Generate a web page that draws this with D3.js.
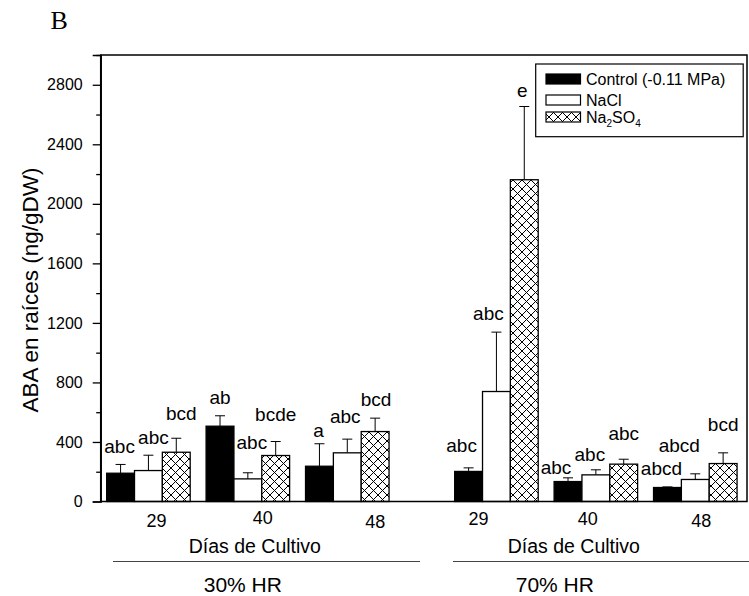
<!DOCTYPE html>
<html><head><meta charset="utf-8">
<script src="https://cdn.jsdelivr.net/npm/d3@7"></script>
<style>
body{margin:0;background:#fff}
svg{display:block}
text{font-family:"Liberation Sans",Arial,sans-serif;fill:#000}
</style>
</head><body>
<svg id="chart" width="749" height="596"></svg>
<script>
// ---------- data ----------
const humidity = ["30% HR", "70% HR"];
const days = ["29", "40", "48", "29", "40", "48"];
const seriesNames = ["Control (-0.11 MPa)", "NaCl", "Na2SO4"];
const control    = [190, 506, 237, 202, 134, 94];
const controlErr = [59, 70, 151, 24, 25, 4];
const nacl       = [208, 152, 327, 739, 179, 148];
const naclErr    = [103, 41, 92, 399, 34, 38];
const na2so4     = [331, 309, 470, 2162, 251, 255];
const na2so4Err  = [94, 94, 90, 492, 33, 72];
const controlLetters = ["abc", "ab", "a", "abc", "abc", "abcd"];
const naclLetters    = ["abc", "abc", "abc", "abc", "abc", "abcd"];
const na2so4Letters  = ["bcd", "bcde", "bcd", "e", "abc", "bcd"];
const yTickValues  = [0, 400, 800, 1200, 1600, 2000, 2400, 2800];
const yMinorValues = [200, 600, 1000, 1400, 1800, 2200, 2600, 3000];
const xAxisTitle = "Días de Cultivo";
const yAxisTitle = "ABA en raíces (ng/gDW)";
const panelLetter = "B";

// ---------- layout (not data) ----------
const groupSlot = [1, 2, 3, 4.5, 5.5, 6.5];
const barW = 0.28;
const tickDx = [8, 15, 28, -18, -8, 6];
const tickDy = [25, 22, 26, 23.5, 23.5, 25.5];
const letterDx = [[-1, 0, -1, -7, -12, -6], [5, 4, -2, -8, -6, -16], [5, 0, 1, -2, 0, 0]];
const letterGap = [[11, 12, 7, 16, 4, 12], [11, 24, 16, 12, 9, 22], [18, 21, 12, 9, 19, 22]];

const svg = d3.select("#chart");
const L = 100.7, R = 747, T = 55, B = 501.5;
const x = d3.scaleLinear().domain([0.52, 7.02]).range([L, R]);
const y = d3.scaleLinear().domain([0, 3000]).range([B, T]);

// hatch pattern
const defs = svg.append("defs");
const pat = defs.append("pattern").attr("id", "hatch").attr("patternUnits", "userSpaceOnUse")
  .attr("width", 9).attr("height", 9);
pat.append("rect").attr("width", 9).attr("height", 9).attr("fill", "#fff");
pat.append("path").attr("d", "M-1,-1L10,10M10,-1L-1,10").attr("stroke", "#000").attr("stroke-width", 1);

const fills = ["#000", "#fff", "url(#hatch)"];
const values = [control, nacl, na2so4];
const errs = [controlErr, naclErr, na2so4Err];
const letters = [controlLetters, naclLetters, na2so4Letters];

const records = [];
values.forEach((arr, s) => arr.forEach((v, g) => records.push({s, g, v, e: errs[s][g], lab: letters[s][g]})));
const cx = d => x(groupSlot[d.g] + (d.s - 1) * barW);

// error bars (behind bars)
const eb = svg.append("g").attr("stroke", "#000").attr("stroke-width", 1);
eb.selectAll("line.v").data(records).join("line")
  .attr("x1", cx).attr("x2", cx).attr("y1", d => y(d.v)).attr("y2", d => y(d.v + d.e));
eb.selectAll("line.c").data(records).join("line")
  .attr("x1", d => cx(d) - 5).attr("x2", d => cx(d) + 5).attr("y1", d => y(d.v + d.e)).attr("y2", d => y(d.v + d.e));

// bars
svg.append("g").selectAll("rect").data(records).join("rect")
  .attr("x", d => cx(d) - (x(barW) - x(0)) / 2)
  .attr("width", x(barW) - x(0))
  .attr("y", d => y(d.v))
  .attr("height", d => y(0) - y(d.v))
  .attr("fill", d => fills[d.s])
  .attr("stroke", "#000").attr("stroke-width", 1.3);

// letters
svg.append("g").selectAll("text").data(records).join("text")
  .attr("x", d => cx(d) + letterDx[d.s][d.g])
  .attr("y", d => y(d.v + d.e) - letterGap[d.s][d.g])
  .attr("text-anchor", "middle").attr("font-size", 19)
  .text(d => d.lab);

// frame
svg.append("rect").attr("x", L).attr("y", T).attr("width", R - L).attr("height", B - T)
  .attr("fill", "none").attr("stroke", "#000").attr("stroke-width", 1.5);

// y axis
const ya = svg.append("g").attr("transform", `translate(${L},0)`)
  .call(d3.axisLeft(y).tickValues(yTickValues).tickFormat(d3.format("d")).tickSize(8).tickPadding(10));
ya.select(".domain").attr("stroke-width", 1.5);
ya.selectAll(".tick line").attr("stroke-width", 1.3);
ya.selectAll(".tick text").attr("font-size", 16).attr("font-family", "Liberation Sans, Arial, sans-serif");
const ym = svg.append("g").attr("transform", `translate(${L},0)`)
  .call(d3.axisLeft(y).tickValues(yMinorValues).tickSize(4.5).tickFormat(""));
ym.select(".domain").remove();
ym.selectAll(".tick line").attr("stroke-width", 1.3);

// x tick labels
svg.append("g").selectAll("text").data(days).join("text")
  .attr("x", (d, i) => x(groupSlot[i]) + tickDx[i])
  .attr("y", (d, i) => B + tickDy[i])
  .attr("text-anchor", "middle").attr("font-size", 18).text(d => d);

// panel titles
const panelCenter = [x(2), x(5.5)];
const diasDx = [7, -22], hrDx = [-5, -41];
panelCenter.forEach((c, i) => {
  svg.append("text").attr("x", c + diasDx[i]).attr("y", 553).attr("text-anchor", "middle")
    .attr("font-size", 19.5).text(xAxisTitle);
  svg.append("text").attr("x", c + hrDx[i]).attr("y", 592).attr("text-anchor", "middle")
    .attr("font-size", 21).text(humidity[i]);
});
svg.append("line").attr("x1", 113).attr("x2", 420).attr("y1", 561.5).attr("y2", 561.5)
  .attr("stroke", "#444").attr("stroke-width", 1);
svg.append("line").attr("x1", 453).attr("x2", 749).attr("y1", 561.5).attr("y2", 561.5)
  .attr("stroke", "#444").attr("stroke-width", 1);

// y title
svg.append("text").attr("transform", "translate(38,290) rotate(-90)")
  .attr("text-anchor", "middle").attr("font-size", 22.5).text(yAxisTitle);

// panel letter
svg.append("text").attr("x", 50.5).attr("y", 28.5).attr("font-size", 26)
  .style("font-family", "'Liberation Serif','Times New Roman',serif").text(panelLetter);

// legend
const lg = svg.append("g");
lg.append("rect").attr("x", 535.7).attr("y", 64).attr("width", 207.5).attr("height", 72.7)
  .attr("fill", "#fff").attr("stroke", "#000").attr("stroke-width", 1.2);
const rowY = [79, 100, 117];
seriesNames.forEach((n, i) => {
  lg.append("rect").attr("x", 546).attr("y", rowY[i] - 5).attr("width", 34.5).attr("height", 10)
    .attr("fill", fills[i]).attr("stroke", "#000").attr("stroke-width", 1.2);
  const t = lg.append("text").attr("x", 586).attr("y", rowY[i] + 5.5).attr("font-size", 16);
  if (n === "Na2SO4") {
    t.append("tspan").text("Na");
    t.append("tspan").attr("font-size", 10).attr("dy", 4).text("2");
    t.append("tspan").attr("dy", -4).text("SO");
    t.append("tspan").attr("font-size", 10).attr("dy", 4).text("4");
  } else t.text(n);
});
</script>
</body></html>
